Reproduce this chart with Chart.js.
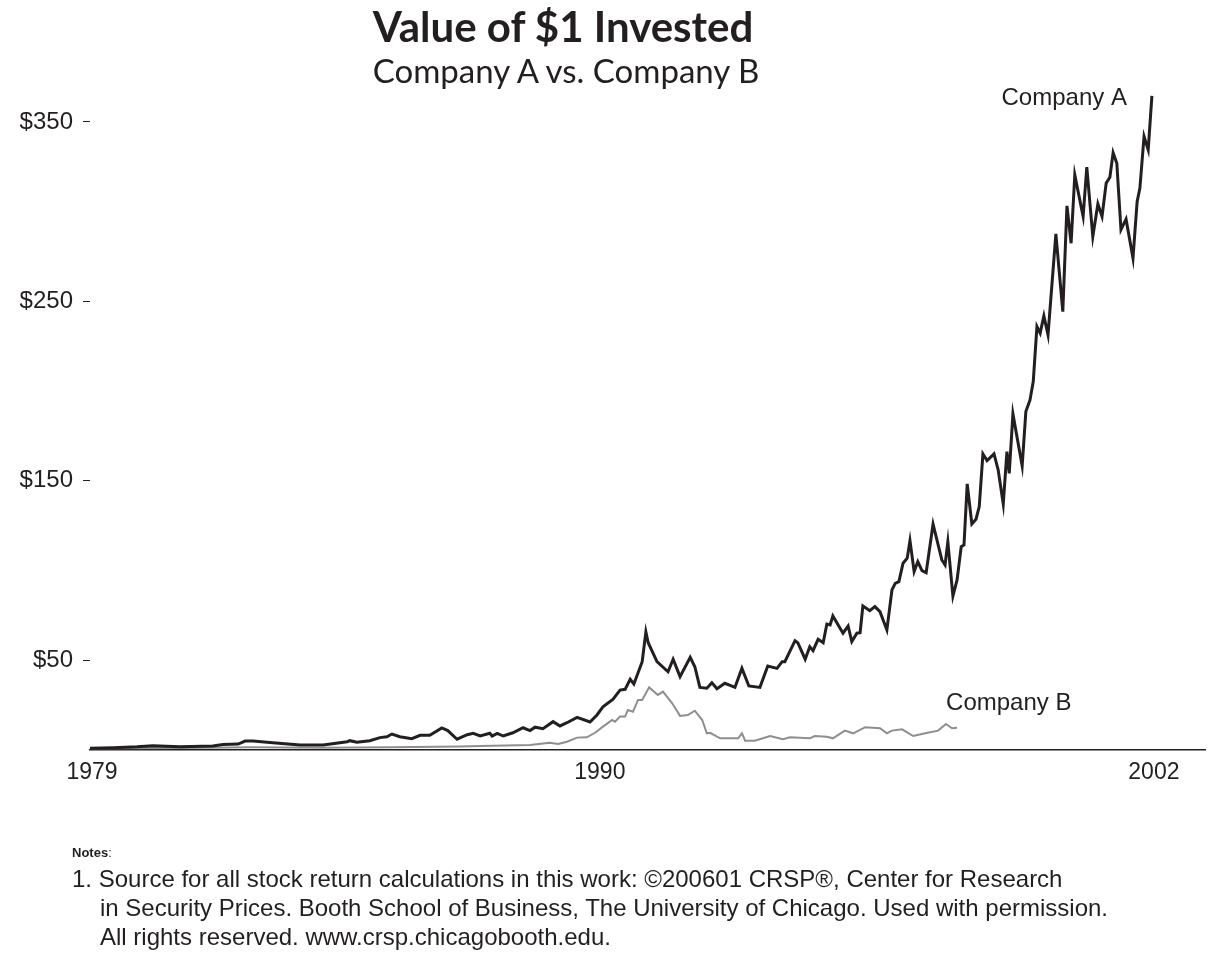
<!DOCTYPE html>
<html>
<head>
<meta charset="utf-8">
<script src="https://cdn.jsdelivr.net/npm/chart.js@4.4.1/dist/chart.umd.min.js"></script>
<style>
  body { margin: 0; background: #fff; }
  #wrap { position: relative; width: 1222px; height: 955px; }
  #chart { position: absolute; left: 0; top: 0; }
  .txt { position: absolute; color: #231f20; white-space: nowrap; }
  #title { left: 563px; top: 1px; transform: translateX(-50%); font: bold 42px Lato, sans-serif; }
  #subtitle { left: 566px; top: 50px; transform: translateX(-50%); font: 33px Lato, sans-serif; }
  #notesHead { left: 72px; top: 845px; font: bold 13px "Liberation Sans", Arial, sans-serif; }
  #notes { left: 72px; top: 864px; font: 24px/29px "Liberation Sans", Arial, sans-serif; }
  #notes .ind { padding-left: 28px; }
</style>
</head>
<body>
<div id="wrap">
  <canvas id="chart" width="1222" height="955"></canvas>
  <div class="txt" id="title">Value of $1 Invested</div>
  <div class="txt" id="subtitle">Company A vs. Company B</div>
  <div class="txt" id="notesHead">Notes<span style="font-weight:normal">:</span></div>
  <div class="txt" id="notes">
    <div>1. Source for all stock return calculations in this work: ©200601 CRSP®, Center for Research</div>
    <div class="ind">in Security Prices. Booth School of Business, The University of Chicago. Used with permission.</div>
    <div class="ind">All rights reserved. www.crsp.chicagobooth.edu.</div>
  </div>
</div>
<script>
// Company A: value of $1 invested (decimal year, dollars)
const aYears = [1979.00, 1979.50, 1980.02, 1980.36, 1980.95, 1981.66, 1981.88, 1982.21, 1982.36, 1982.53,
  1982.96, 1983.55, 1984.05, 1984.57, 1984.63, 1984.78, 1985.06, 1985.28, 1985.43, 1985.54,
  1985.71, 1985.97, 1986.15, 1986.36, 1986.62, 1986.75, 1986.95, 1987.17, 1987.30, 1987.45,
  1987.66, 1987.71, 1987.82, 1987.95, 1988.16, 1988.38, 1988.53, 1988.64, 1988.81, 1989.03,
  1989.18, 1989.33, 1989.55, 1989.83, 1989.98, 1990.11, 1990.33, 1990.48, 1990.59, 1990.70,
  1990.78, 1990.96, 1991.04, 1991.09, 1991.28, 1991.52, 1991.63, 1991.78, 1992.00, 1992.10,
  1992.21, 1992.36, 1992.47, 1992.58, 1992.75, 1992.97, 1993.12, 1993.27, 1993.51, 1993.68,
  1993.88, 1993.99, 1994.05, 1994.27, 1994.33, 1994.49, 1994.59, 1994.66, 1994.77, 1994.88,
  1994.96, 1995.03, 1995.09, 1995.31, 1995.42, 1995.50, 1995.61, 1995.68, 1995.74, 1995.89,
  1996.00, 1996.11, 1996.26, 1996.37, 1996.44, 1996.52, 1996.61, 1996.70, 1996.76, 1996.85,
  1996.93, 1997.02, 1997.11, 1997.26, 1997.45, 1997.52, 1997.58, 1997.69, 1997.78, 1997.87,
  1997.93, 1998.00, 1998.10, 1998.19, 1998.26, 1998.34, 1998.43, 1998.58, 1998.67, 1998.78,
  1998.86, 1998.91, 1998.99, 1999.19, 1999.27, 1999.36, 1999.43, 1999.51, 1999.58, 1999.66,
  1999.75, 1999.92, 2000.07, 2000.16, 2000.25, 2000.33, 2000.51, 2000.59, 2000.72, 2000.83,
  2000.92, 2001.01, 2001.09, 2001.16, 2001.24, 2001.33, 2001.44, 2001.59, 2001.68, 2001.74,
  2001.83, 2001.92, 2002.00];
const aValues = [1.0, 1.3, 1.8, 2.4, 1.8, 2.2, 3.0, 3.3, 5.0, 5.0,
  4.1, 2.8, 2.8, 4.6, 5.2, 4.3, 5.2, 6.9, 7.4, 8.9,
  7.4, 6.3, 8.2, 8.2, 12.3, 10.8, 6.0, 8.5, 9.3, 7.8,
  9.3, 7.8, 9.3, 7.8, 9.6, 12.4, 10.8, 12.7, 11.9, 15.8,
  13.4, 15.2, 18.2, 15.6, 19.5, 24.1, 28.3, 33.4, 33.8, 39.4,
  36.8, 49.2, 65.9, 59.8, 49.2, 43.6, 50.6, 40.9, 51.7, 46.4,
  34.9, 34.4, 37.5, 34.2, 37.2, 34.9, 45.5, 35.7, 34.9, 46.8,
  45.5, 49.2, 49.2, 60.9, 59.8, 50.6, 57.6, 55.4, 61.7, 59.8,
  70.2, 69.7, 74.7, 65.1, 69.1, 60.4, 65.1, 65.4, 80.3, 77.6,
  79.9, 77.1, 66.9, 89.2, 92.9, 93.8, 104.1, 106.9, 116.7, 99.4,
  105.0, 99.9, 98.8, 125.8, 105.9, 103.1, 116.1, 85.8, 94.8, 113.3,
  114.3, 148.3, 126.0, 128.6, 135.6, 165.0, 161.3, 165.0, 156.1, 137.1,
  166.3, 154.2, 187.3, 158.3, 188.6, 195.1, 205.3, 236.0, 232.3, 241.9,
  231.3, 287.6, 244.3, 303.2, 282.4, 320.5, 297.3, 324.8, 286.1, 304.3,
  297.3, 315.9, 319.2, 332.9, 327.0, 289.9, 295.8, 274.1, 305.6, 313.1,
  341.9, 334.4, 364.5];

// Company B: value of $1 invested
const bYears = [1979.00, 1981.00, 1982.50, 1984.00, 1985.50, 1987.00, 1987.45, 1988.00, 1988.53, 1988.96,
  1989.14, 1989.33, 1989.55, 1989.76, 1989.94, 1990.11, 1990.31, 1990.37, 1990.48, 1990.59,
  1990.65, 1990.76, 1990.87, 1990.96, 1991.11, 1991.30, 1991.41, 1991.61, 1991.78, 1991.95,
  1992.10, 1992.26, 1992.36, 1992.43, 1992.65, 1993.04, 1993.12, 1993.19, 1993.40, 1993.73,
  1994.01, 1994.16, 1994.59, 1994.70, 1994.96, 1995.09, 1995.35, 1995.53, 1995.79, 1996.11,
  1996.26, 1996.37, 1996.59, 1996.83, 1997.09, 1997.37, 1997.54, 1997.67, 1997.78];
const bValues = [1.0, 1.1, 1.6, 1.3, 1.6, 2.0, 2.2, 2.5, 2.8, 4.1,
  3.3, 4.6, 6.9, 7.1, 9.6, 13.0, 16.7, 15.8, 18.6, 18.6,
  22.3, 21.3, 27.9, 27.9, 34.9, 30.7, 32.5, 26.0, 19.0, 19.5,
  21.9, 16.7, 9.3, 9.6, 6.5, 6.5, 9.3, 5.2, 5.2, 7.8,
  6.0, 7.1, 6.5, 7.8, 7.4, 6.5, 10.8, 9.3, 12.7, 12.1,
  9.3, 10.8, 11.5, 7.8, 9.3, 10.8, 14.5, 12.1, 12.4];

const seriesNames = ["Company A", "Company B"];
const xTickYears = [1979, 1990, 2002];
const yTickValues = [50, 150, 250, 350];

const ink = "#231f20";

function pairs(xs, ys) {
  return xs.map((x, i) => ({ x: x, y: ys[i] }));
}

// writes the series names next to the end of each line
const seriesLabels = {
  id: "seriesLabels",
  afterDatasetsDraw(chart) {
    const ctx = chart.ctx;
    const xs = chart.scales.x;
    const ys = chart.scales.y;
    ctx.save();
    ctx.fillStyle = ink;
    ctx.font = "24px 'Liberation Sans', Arial, sans-serif";
    ctx.textBaseline = "middle";

    const aLastX = xs.getPixelForValue(aYears[aYears.length - 1]);
    const aLastY = ys.getPixelForValue(aValues[aValues.length - 1]);
    ctx.textAlign = "right";
    ctx.fillText(seriesNames[0], aLastX - 25, aLastY + 2);

    const bLastX = xs.getPixelForValue(bYears[bYears.length - 1]);
    const bLastY = ys.getPixelForValue(bValues[bValues.length - 1]);
    ctx.textAlign = "left";
    ctx.fillText(seriesNames[1], bLastX - 11, bLastY - 24);
    ctx.restore();
  },
};

new Chart(document.getElementById("chart"), {
  type: "line",
  data: {
    datasets: [
      {
        label: seriesNames[0],
        data: pairs(aYears, aValues),
        borderColor: ink,
        borderWidth: 3,
        pointRadius: 0,
        tension: 0,
      },
      {
        label: seriesNames[1],
        data: pairs(bYears, bValues),
        borderColor: "#8e8e8e",
        borderWidth: 2,
        pointRadius: 0,
        tension: 0,
      },
    ],
  },
  options: {
    responsive: false,
    animation: false,
    events: [],
    layout: { padding: { top: 95, right: 17, bottom: 165, left: 0 } },
    plugins: {
      legend: { display: false },
      tooltip: { enabled: false },
    },
    scales: {
      x: {
        type: "linear",
        min: 1979,
        max: 2003.15,
        afterBuildTicks: (s) => { s.ticks = xTickYears.map((v) => ({ value: v })); },
        afterFit: (s) => { s.height = 40; },
        grid: { display: false, drawTicks: false },
        border: { display: true, color: ink, width: 1.5 },
        ticks: {
          padding: 9,
          labelOffset: 2,
          color: ink,
          font: { family: "'Liberation Sans', Arial, sans-serif", size: 23 },
          callback: (v) => String(v),
        },
      },
      y: {
        min: 0,
        max: 365,
        afterBuildTicks: (s) => { s.ticks = yTickValues.map((v) => ({ value: v })); },
        afterFit: (s) => { s.width = 90; },
        grid: { drawOnChartArea: false, tickLength: 7, color: ink, lineWidth: 1 },
        border: { display: false },
        ticks: {
          padding: 10,
          color: ink,
          font: { family: "'Liberation Sans', Arial, sans-serif", size: 24 },
          callback: (v) => "$" + v,
        },
      },
    },
  },
  plugins: [seriesLabels],
});
</script>
</body>
</html>
